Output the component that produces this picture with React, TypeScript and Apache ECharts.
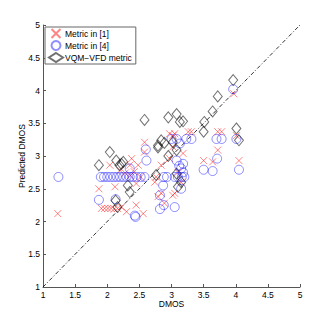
import React, { useEffect, useRef } from "react";
import * as echarts from "echarts";

const seriesNames = ["Metric in [1]", "Metric in [4]", "VQM\u2212VFD metric"];
const tickLabels = ["1", "1.5", "2", "2.5", "3", "3.5", "4", "4.5", "5"];
const diagonal = [[1, 1], [5, 5]];

const metric1Points = [
  [1.23, 2.12], [1.87, 2.50], [1.91, 2.20], [1.96, 2.20], [2.01, 2.20], [2.06, 2.20],
  [2.11, 2.19], [2.16, 2.20], [2.22, 2.22], [2.30, 2.15], [2.04, 2.86], [2.12, 2.53],
  [2.35, 2.86], [2.48, 2.86], [2.45, 2.58], [2.45, 2.25], [2.56, 2.12], [2.38, 2.96],
  [2.58, 3.21], [2.58, 3.06], [2.74, 2.60], [2.79, 2.38], [2.84, 2.43], [2.89, 2.28],
  [2.84, 2.86], [2.97, 2.96], [3.02, 2.40], [3.05, 2.43], [3.02, 3.14], [2.97, 3.34],
  [3.05, 3.34], [3.02, 3.31], [3.18, 3.04], [3.26, 3.37], [3.31, 3.37], [3.50, 2.93],
  [3.64, 2.91], [3.72, 3.09], [3.72, 3.37], [3.78, 3.37], [3.97, 3.95], [4.01, 3.31],
  [4.05, 2.93], [2.28, 2.74], [2.36, 2.70], [2.42, 2.76], [2.52, 2.68], [2.20, 2.78],
  [2.76, 2.68], [3.10, 2.75], [3.15, 2.60]
];

const metric4Points = [
  [1.24, 2.68], [1.87, 2.33], [2.13, 2.34], [1.90, 2.68], [1.95, 2.68], [2.00, 2.68],
  [2.05, 2.68], [2.10, 2.68], [2.15, 2.68], [2.20, 2.68], [2.25, 2.68], [2.30, 2.68],
  [2.35, 2.68], [2.40, 2.68], [2.46, 2.68], [2.52, 2.68], [2.58, 2.68], [2.88, 2.68],
  [2.93, 2.68], [3.05, 2.68], [3.10, 2.68], [3.16, 2.68], [3.20, 2.68], [2.35, 2.81],
  [2.61, 2.93], [2.60, 3.10], [2.44, 2.07], [2.43, 2.09], [2.82, 2.19], [2.88, 2.25],
  [3.05, 2.22], [2.82, 2.40], [2.87, 2.55], [3.08, 2.93], [3.18, 2.88], [3.15, 2.81],
  [3.13, 3.19], [3.00, 3.26], [3.08, 3.26], [3.23, 3.26], [3.31, 3.26], [3.50, 2.79],
  [3.64, 2.77], [3.71, 2.96], [4.05, 2.79], [3.70, 3.26], [3.78, 3.26], [4.01, 3.26],
  [3.96, 4.02], [3.12, 2.85], [3.18, 2.75], [3.15, 2.50]
];

const vqmPoints = [
  [1.87, 2.86], [2.04, 3.06], [2.19, 2.86], [2.25, 2.91], [2.13, 2.32], [2.22, 2.88],
  [2.32, 2.55], [2.35, 2.45], [2.58, 3.55], [2.76, 2.71], [2.79, 3.13], [2.84, 3.24],
  [2.89, 3.20], [2.95, 3.00], [2.95, 3.59], [3.02, 3.21], [3.08, 3.64], [3.08, 3.09],
  [3.13, 3.52], [3.10, 2.53], [3.15, 2.60], [3.18, 3.53], [3.50, 3.37], [3.51, 3.52],
  [3.64, 3.68], [3.72, 3.91], [3.96, 4.16], [4.01, 3.42], [4.05, 3.24], [2.16, 2.22],
  [2.79, 3.16], [3.08, 2.73], [2.14, 2.93]
];

const FONT = "Liberation Sans, Arial, sans-serif";
const CROSS = "path://M0,0L10,10M10,0L0,10";

export default function App() {
  const ref = useRef<HTMLDivElement>(null);
  useEffect(() => {
    if (!ref.current) return;
    const chart = echarts.init(ref.current, null, { renderer: "svg" });
    const axisCommon = {
      type: "value",
      min: 1,
      max: 5,
      interval: 0.5,
      nameLocation: "middle",
      nameMoveOverlap: false,
      nameTextStyle: { fontSize: 8.5, color: "#000", fontFamily: FONT },
      axisLine: { show: true, lineStyle: { color: "#555", width: 1 } },
      axisTick: { show: true, inside: true, length: 3, lineStyle: { color: "#555" } },
      splitLine: { show: false },
      axisLabel: {
        fontSize: 8.5,
        color: "#000",
        fontFamily: FONT,
        margin: 3,
        formatter: (v: number) => tickLabels[Math.round((v - 1) * 2)] ?? String(v),
      },
    };
    chart.setOption({
      animation: false,
      backgroundColor: "#fff",
      grid: { left: 43, top: 25, right: 32, bottom: 37, containLabel: false },
      xAxis: { ...axisCommon, name: "DMOS", nameGap: 12 },
      yAxis: { ...axisCommon, name: "Predicted DMOS", nameGap: 17 },
      legend: {
        orient: "vertical",
        left: 45,
        top: 27,
        data: seriesNames,
        backgroundColor: "#fff",
        borderColor: "#666",
        borderWidth: 1,
        padding: [1, 4, 1, 3],
        itemWidth: 14,
        itemHeight: 9,
        itemGap: 1,
        textStyle: { fontSize: 8.5, color: "#000", fontFamily: FONT, padding: [0, 0, 0, -3] },
      },
      series: [
        {
          type: "line",
          data: diagonal,
          symbol: "none",
          silent: true,
          lineStyle: { color: "#000", width: 0.8, type: [4, 2, 1, 2] },
          z: 1,
        },
        {
          name: seriesNames[0],
          type: "scatter",
          data: metric1Points,
          symbol: CROSS,
          symbolSize: 7,
          itemStyle: { color: "rgba(0,0,0,0)", borderColor: "rgba(255,0,0,0.6)", borderWidth: 1 },
          z: 3,
        },
        {
          name: seriesNames[1],
          type: "scatter",
          data: metric4Points,
          symbol: "circle",
          symbolSize: 9,
          itemStyle: { color: "rgba(0,0,0,0)", borderColor: "rgba(0,0,255,0.55)", borderWidth: 1 },
          z: 3,
        },
        {
          name: seriesNames[2],
          type: "scatter",
          data: vqmPoints,
          symbol: "diamond",
          symbolSize: [9, 11],
          itemStyle: { color: "rgba(0,0,0,0)", borderColor: "rgba(0,0,0,0.7)", borderWidth: 1 },
          z: 3,
        },
      ],
    });
    return () => chart.dispose();
  }, []);
  return (
    <div
      ref={ref}
      style={{ position: "absolute", left: 0, top: 0, width: 332, height: 324, background: "#fff" }}
    />
  );
}
